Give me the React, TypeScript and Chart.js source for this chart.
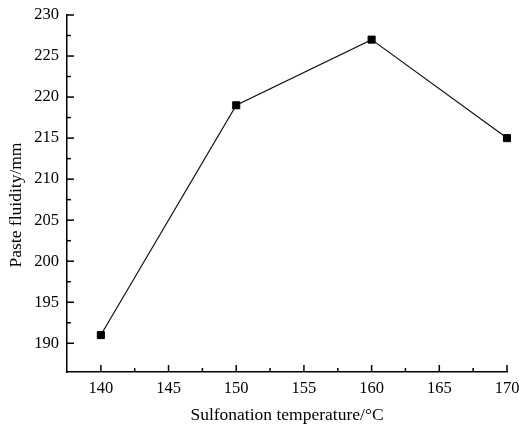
import { useEffect, useRef } from "react";
import { Chart, registerables } from "chart.js";
Chart.register(...registerables);

const temperatures = [140, 150, 160, 170];
const fluidity = [191, 219, 227, 215];
const xRange = [137.5, 170];
const yRange = [186.5, 230];
const tickStep = 5;
const xTitle = "Sulfonation temperature/°C";
const yTitle = "Paste fluidity/mm";

const FONT = "'Liberation Serif', 'Times New Roman', serif";

const innerTicks = {
  id: "innerTicks",
  afterDatasetsDraw(chart: any) {
    const ctx = chart.ctx;
    const { left, bottom } = chart.chartArea;
    ctx.save();
    ctx.strokeStyle = "#000";
    ctx.lineWidth = 1.5;
    const draw = (scale: any, horizontal: boolean) => {
      const vals: number[] = scale.ticks.map((t: any) => t.value);
      const minors: number[] = [];
      for (let i = 0; i < vals.length - 1; i++) minors.push((vals[i] + vals[i + 1]) / 2);
      const line = (v: number, len: number) => {
        const p = scale.getPixelForValue(v);
        ctx.beginPath();
        if (horizontal) {
          ctx.moveTo(p, bottom);
          ctx.lineTo(p, bottom - len);
        } else {
          ctx.moveTo(left, p);
          ctx.lineTo(left + len, p);
        }
        ctx.stroke();
      };
      vals.forEach((v) => line(v, 7));
      minors.forEach((v) => line(v, 4));
    };
    draw(chart.scales.x, true);
    draw(chart.scales.y, false);
    ctx.restore();
  },
};

const yTitlePlugin = {
  id: "yTitlePlugin",
  afterDraw(chart: any) {
    const ctx = chart.ctx;
    ctx.save();
    ctx.fillStyle = "#000";
    ctx.font = `17.5px ${FONT}`;
    ctx.textAlign = "center";
    ctx.textBaseline = "middle";
    ctx.translate(16, 205);
    ctx.rotate(-Math.PI / 2);
    ctx.fillText(yTitle, 0, 0);
    ctx.restore();
  },
};

export default function App() {
  const ref = useRef<HTMLCanvasElement | null>(null);
  useEffect(() => {
    if (!ref.current) return;
    const chart = new Chart(ref.current, {
      type: "line",
      data: {
        datasets: [
          {
            data: temperatures.map((t, i) => ({ x: t, y: fluidity[i] })),
            borderColor: "#111",
            borderWidth: 1.2,
            pointStyle: "rect",
            pointRadius: 5,
            pointBorderWidth: 1,
            pointBackgroundColor: "#000",
            pointBorderColor: "#000",
            tension: 0,
            clip: false,
          },
        ],
      },
      options: {
        responsive: false,
        animation: false,
        layout: { padding: { top: 15, right: 12, left: 0, bottom: 0 } },
        plugins: { legend: { display: false }, tooltip: { enabled: false } },
        scales: {
          x: {
            type: "linear",
            min: xRange[0],
            max: xRange[1],
            afterFit: (s: any) => {
              s.height = 54;
              s.paddingRight = 0;
              s.paddingLeft = 0;
            },
            ticks: {
              stepSize: tickStep,
              includeBounds: false,
              color: "#000",
              padding: 7,
              maxRotation: 0,
              font: { family: FONT, size: 16.5 },
            },
            grid: { display: false, drawTicks: false },
            border: { display: true, color: "#000", width: 1.5 },
            title: {
              display: true,
              text: xTitle,
              color: "#000",
              font: { family: FONT, size: 17.5 },
              padding: { top: 0, bottom: 0 },
            },
          },
          y: {
            type: "linear",
            min: yRange[0],
            max: yRange[1],
            afterFit: (s: any) => {
              s.width = 67;
              s.paddingTop = 0;
              s.paddingBottom = 0;
            },
            ticks: {
              stepSize: tickStep,
              includeBounds: false,
              color: "#000",
              padding: 8,
              font: { family: FONT, size: 16.5 },
            },
            grid: { display: false, drawTicks: false },
            border: { display: true, color: "#000", width: 1.5 },
          },
        },
      },
      plugins: [innerTicks, yTitlePlugin],
    });
    return () => chart.destroy();
  }, []);
  return (
    <div style={{ position: "absolute", left: 0, top: 0, width: 519, height: 426, background: "#fff" }}>
      <canvas ref={ref} width={519} height={426} />
    </div>
  );
}
